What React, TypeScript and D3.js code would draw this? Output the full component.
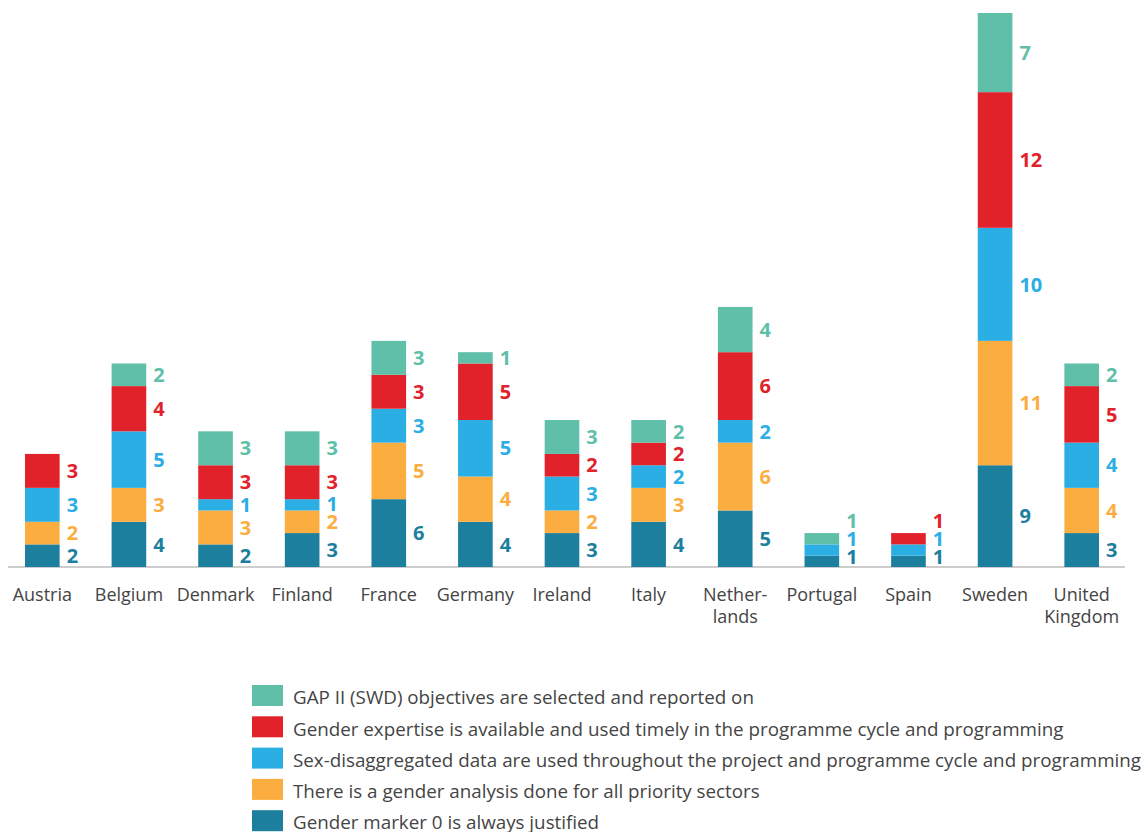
import React, { useEffect, useRef } from 'react';
import * as d3 from 'd3';

const countries = [
  'Austria', 'Belgium', 'Denmark', 'Finland', 'France', 'Germany', 'Ireland',
  'Italy', 'Netherlands', 'Portugal', 'Spain', 'Sweden', 'United Kingdom',
];

// label lines under the axis
const countryLabels = [
  ['Austria'], ['Belgium'], ['Denmark'], ['Finland'], ['France'], ['Germany'], ['Ireland'],
  ['Italy'], ['Nether-', 'lands'], ['Portugal'], ['Spain'], ['Sweden'], ['United', 'Kingdom'],
];

// series, bottom to top
const genderMarker = [2, 4, 2, 3, 6, 4, 3, 4, 5, 1, 1, 9, 3];
const genderAnalysis = [2, 3, 3, 2, 5, 4, 2, 3, 6, 0, 0, 11, 4];
const sexData = [3, 5, 1, 1, 3, 5, 3, 2, 2, 1, 1, 10, 4];
const expertise = [3, 4, 3, 3, 3, 5, 2, 2, 6, 0, 1, 12, 5];
const gapObjectives = [0, 2, 3, 3, 3, 1, 3, 2, 4, 1, 0, 7, 2];

const seriesNames = [
  'Gender marker 0 is always justified',
  'There is a gender analysis done for all priority sectors',
  'Sex-disaggregated data are used throughout the project and programme cycle and programming',
  'Gender expertise is available and used timely in the programme cycle and programming',
  'GAP II (SWD) objectives are selected and reported on',
];
const seriesColors = ['#1d7f9e', '#fbae3f', '#2baee4', '#e2222b', '#60bfa8'];

const W = 1147;
const H = 832;
const FONT = "'Open Sans', sans-serif";

export default function App() {
  const ref = useRef<SVGSVGElement>(null);

  useEffect(() => {
    if (!ref.current) return;
    const svg = d3.select(ref.current);
    svg.selectAll('*').remove();

    const values = [genderMarker, genderAnalysis, sexData, expertise, gapObjectives];
    const rows = countries.map((c, i) => {
      const r: any = { country: c };
      values.forEach((v, k) => (r['s' + k] = v[i]));
      return r;
    });
    const keys = values.map((_, k) => 's' + k);
    const stacked = d3.stack<any>().keys(keys)(rows);

    const baseline = 567;
    const x = d3.scaleBand<string>().domain(countries).range([-1, 1125]).paddingInner(0.6).paddingOuter(0.3);
    const y = d3.scaleLinear().domain([0, 49]).range([baseline, 13]);

    // axis line
    svg.append('line')
      .attr('x1', 8).attr('x2', 1125)
      .attr('y1', baseline).attr('y2', baseline)
      .attr('stroke', '#bdbdbd').attr('stroke-width', 1.5);

    stacked.forEach((layer, k) => {
      svg.append('g')
        .selectAll('rect')
        .data(layer.filter((d) => d[1] > d[0]))
        .join('rect')
        .attr('x', (d) => x(d.data.country)!)
        .attr('width', x.bandwidth())
        .attr('y', (d) => y(d[1]))
        .attr('height', (d) => y(d[0]) - y(d[1]))
        .attr('fill', seriesColors[k]);
    });

    // value labels, pushed apart when segments are thin
    countries.forEach((c, i) => {
      let prev = baseline + 8;
      stacked.forEach((layer, k) => {
        const d = layer[i];
        if (d[1] <= d[0]) return;
        const center = (y(d[0]) + y(d[1])) / 2;
        const cy = Math.min(center, prev - 18, baseline - 10);
        prev = cy;
        svg.append('text')
          .attr('x', x(c)! + x.bandwidth() + 7)
          .attr('y', cy)
          .attr('dy', '0.36em')
          .attr('fill', seriesColors[k])
          .attr('font-family', FONT)
          .attr('font-weight', 700)
          .attr('font-size', 20)
          .text(d[1] - d[0]);
      });
    });

    // category labels
    countries.forEach((c, i) => {
      const t = svg.append('text')
        .attr('x', x(c)! + x.bandwidth() / 2)
        .attr('y', 601)
        .attr('text-anchor', 'middle')
        .attr('fill', '#444')
        .attr('font-family', FONT)
        .attr('font-size', 18);
      countryLabels[i].forEach((line, j) => {
        t.append('tspan')
          .attr('x', x(c)! + x.bandwidth() / 2)
          .attr('dy', j === 0 ? 0 : 22)
          .text(line);
      });
    });

    // legend, top entry = top series
    const order = [4, 3, 2, 1, 0];
    const legend = svg.append('g').attr('transform', 'translate(252,685)');
    order.forEach((k, j) => {
      const g = legend.append('g').attr('transform', `translate(0,${j * 31.3})`);
      g.append('rect').attr('width', 31).attr('height', 21).attr('fill', seriesColors[k]);
      g.append('text')
        .attr('x', 41).attr('y', 12.5).attr('dy', '0.36em')
        .attr('fill', '#444')
        .attr('font-family', FONT)
        .attr('font-size', 18.8)
        .text(seriesNames[k]);
    });
  }, []);

  return (
    <svg
      ref={ref}
      width={W}
      height={H}
      style={{ position: 'absolute', left: 0, top: 0, background: '#fff' }}
    />
  );
}
